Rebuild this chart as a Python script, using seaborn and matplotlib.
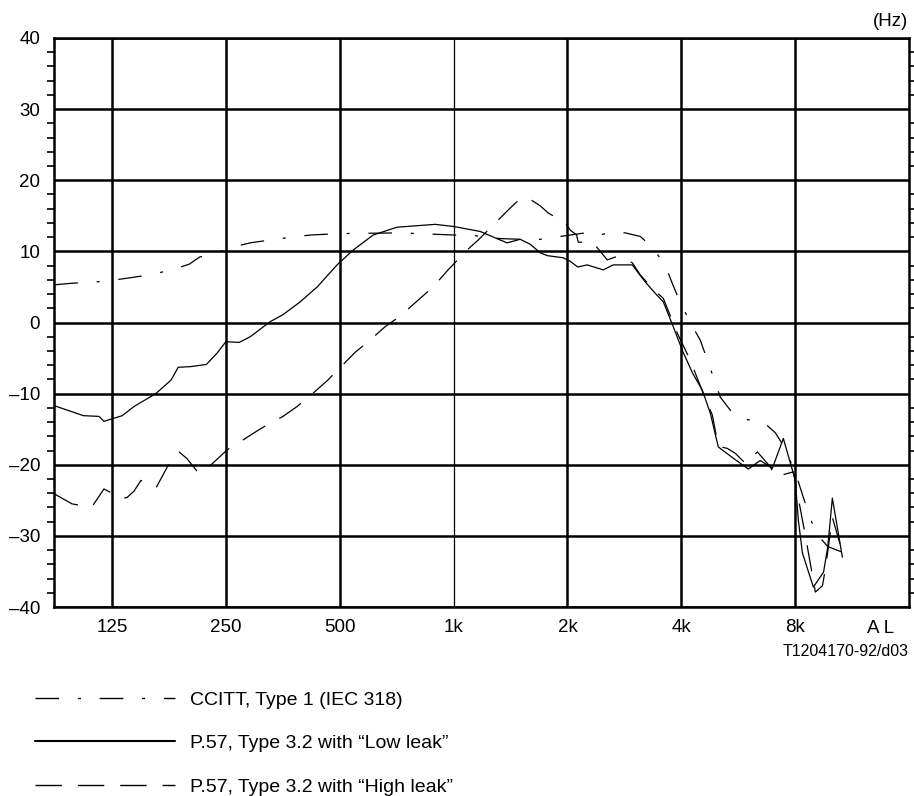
import numpy as np
import pandas as pd
import matplotlib
matplotlib.use("Agg")
import matplotlib.pyplot as plt
import seaborn as sns
from matplotlib.ticker import MultipleLocator, NullLocator

# ---------------- data ----------------
series_names = [
    "CCITT, Type 1 (IEC 318)",
    "P.57, Type 3.2 with \u201cLow leak\u201d",
    "P.57, Type 3.2 with \u201cHigh leak\u201d",
]

ccitt_hz = [88, 97, 120, 140, 157, 180, 200, 213, 250, 270, 290, 348, 418, 500,
            722, 1000, 1141, 1328, 1500, 1644, 1801, 2097, 2297, 2442, 2596,
            2844, 3116, 3352, 3630, 3787, 3960, 4225, 4491, 4776, 5072, 5459,
            5730, 6592, 7091, 7445, 8000, 8517, 9047, 9755, 10665]
ccitt_db = [5.3, 5.5, 5.8, 6.3, 6.7, 7.4, 8.2, 9.2, 10.2, 10.8, 11.2, 11.8, 12.3,
            12.5, 12.6, 12.3, 12.2, 11.8, 11.7, 11.6, 11.9, 12.4, 12.7, 12.3,
            12.7, 12.6, 12.1, 10.6, 8.0, 5.5, 3.0, 0.0, -2.5, -6.5, -10.5,
            -12.7, -13.5, -14.0, -15.5, -17.3, -21.0, -25.5, -29.5, -31.5, -32.3]

low_hz = [88, 105, 115.5, 119, 133, 143, 158.5, 164, 179, 187, 202, 222, 237,
          250, 271, 290, 327, 354, 393, 436, 492, 543, 613, 709, 894, 1000,
          1176, 1328, 1386, 1500, 1594, 1695, 1769, 1950, 2034, 2130, 2256,
          2487, 2643, 2968, 3116, 3212, 3414, 3585, 3630, 3810, 4024, 4282,
          4546, 4776, 5011, 5560, 6016, 6470, 6963, 7445, 7911, 8000, 8158,
          8362, 8938, 9510, 9755, 10034, 10665]
low_db = [-11.7, -13.1, -13.2, -13.9, -13.1, -11.8, -10.4, -9.9, -8.1, -6.3,
          -6.2, -5.9, -4.3, -2.7, -2.8, -2.0, 0.1, 1.1, 2.9, 5.0, 8.1, 10.2,
          12.3, 13.4, 13.8, 13.5, 12.8, 11.6, 11.2, 11.7, 11.0, 9.8, 9.4, 9.1,
          8.6, 7.8, 8.1, 7.4, 8.1, 8.1, 6.6, 5.7, 4.1, 2.9, 2.2, -0.6, -3.9,
          -7.1, -9.5, -12.8, -17.5, -19.3, -20.6, -19.4, -20.5, -16.3, -21.2,
          -22.0, -27.8, -32.4, -37.2, -35.1, -31.6, -24.7, -33.0]

high_hz = [88, 98, 108, 111, 119, 125, 132, 137, 143, 149, 158.5, 164, 175,
           182, 188, 197, 212, 228.5, 252, 276, 297, 321, 354, 386, 430, 463,
           549, 594, 659, 722, 816, 883, 967, 1086, 1162, 1412, 1500, 1575,
           1695, 1779, 1974, 2034, 2115, 2136, 2340, 2549, 2709, 2968, 3116,
           3352, 3585, 3904, 4225, 4573, 4831, 5011, 5292, 5560, 5907, 6358,
           6880, 7091, 7911, 8517, 9047, 9450, 9633, 10034, 10665]
high_db = [-24.1, -25.5, -25.9, -25.8, -23.4, -24.0, -24.8, -24.6, -23.7,
           -22.2, -23.2, -23.1, -20.3, -18.9, -18.2, -19.1, -21.2, -20.0,
           -17.9, -16.6, -15.5, -14.4, -13.2, -11.8, -9.7, -8.2, -4.2, -2.7,
           -0.6, 0.9, 3.4, 5.0, 7.4, 10.2, 11.6, 16.1, 17.4, 17.5, 16.4, 15.4,
           14.0, 13.0, 12.3, 11.3, 11.2, 8.8, 9.3, 8.4, 6.7, 4.8, 3.4, -1.5,
           -5.3, -10.0, -13.0, -17.4, -17.7, -18.4, -19.8, -18.2, -20.3,
           -21.7, -21.0, -30.0, -37.9, -37.0, -34.4, -27.4, -32.3]

octave_ticks = [125, 250, 500, 1000, 2000, 4000, 8000]
octave_labels = ["125", "250", "500", "1k", "2k", "4k", "8k"]
y_ticks = [-40, -30, -20, -10, 0, 10, 20, 30, 40]
y_labels = ["\u201340", "\u201330", "\u201320", "\u201310", "0", "10", "20", "30", "40"]

# ---------------- table ----------------
df = pd.concat([
    pd.DataFrame({"hz": ccitt_hz, "db": ccitt_db, "series": series_names[0]}),
    pd.DataFrame({"hz": low_hz, "db": low_db, "series": series_names[1]}),
    pd.DataFrame({"hz": high_hz, "db": high_db, "series": series_names[2]}),
], ignore_index=True)

# ---------------- style ----------------
sns.set_theme(style="white")
plt.rcParams['font.family'] = ['Liberation Sans', 'DejaVu Sans']
plt.rcParams['lines.scale_dashes'] = False
plt.rcParams['text.color'] = 'black'
plt.rcParams['xtick.color'] = 'black'
plt.rcParams['ytick.color'] = 'black'

fig = plt.figure(figsize=(9.14, 7.96), dpi=100)
ax = fig.add_axes([54 / 914, 1 - 607 / 796, (909 - 54) / 914, (607 - 38) / 796])

dash_map = {
    series_names[0]: (17, 13.5, 2.2, 13.5),
    series_names[1]: "",
    series_names[2]: (19, 11.5),
}
palette = {n: "black" for n in series_names}

sns.lineplot(data=df, x="hz", y="db", hue="series", style="series",
             hue_order=series_names, style_order=series_names,
             palette=palette, dashes=dash_map, estimator=None, sort=False,
             linewidth=0.9, ax=ax)

handles, labels = ax.get_legend_handles_labels()
pairs = [(h, l) for h, l in zip(handles, labels) if l in series_names]
if ax.get_legend() is not None:
    ax.get_legend().remove()
for h, l in pairs:
    h.set_color("black")
    h.set_linewidth(1.5 if l == series_names[1] else 1.0)

ax.set_xscale("log", base=2)
ax.set_xlim(87.8, 16000)
ax.set_ylim(-40, 40)
ax.set_xticks(octave_ticks, octave_labels)
ax.xaxis.set_minor_locator(NullLocator())
ax.set_yticks(y_ticks, y_labels)
ax.yaxis.set_minor_locator(MultipleLocator(2))
ax.set_xlabel("")
ax.set_ylabel("")

ax.tick_params(axis="x", which="major", length=0, pad=9, labelsize=13.5)
ax.tick_params(axis="y", which="major", length=0, pad=10, labelsize=13.5)
ax.tick_params(axis="y", which="minor", left=True, right=True,
               direction="out", length=5, width=1.2, color="black")
ax.grid(True, which="major", color="black", linewidth=1.8)
for sp in ax.spines.values():
    sp.set_visible(True)
    sp.set_color("black")
    sp.set_linewidth(1.8)

for loc, tick in zip(ax.xaxis.get_majorticklocs(), ax.xaxis.get_major_ticks()):
    if abs(loc - 1000) < 1:
        tick.gridline.set_linewidth(0.9)

ax.text(13450, -0.037, "A L", transform=ax.get_xaxis_transform(),
        ha="center", va="center", fontsize=13.5)
fig.text(908 / 914, 1 - 21 / 796, "(Hz)", ha="right", va="center", fontsize=13.5)
fig.text(909 / 914, 1 - 651 / 796, "T1204170-92/d03", ha="right", va="center",
         fontsize=11.5)

fig.legend([p[0] for p in pairs], [p[1] for p in pairs], loc="upper left",
           bbox_to_anchor=(35 / 914, 1 - 691 / 796), frameon=False,
           handlelength=7.2, handletextpad=0.75, labelspacing=1.33,
           borderpad=0, borderaxespad=0, fontsize=14)

fig.savefig("out.png", dpi=100)
